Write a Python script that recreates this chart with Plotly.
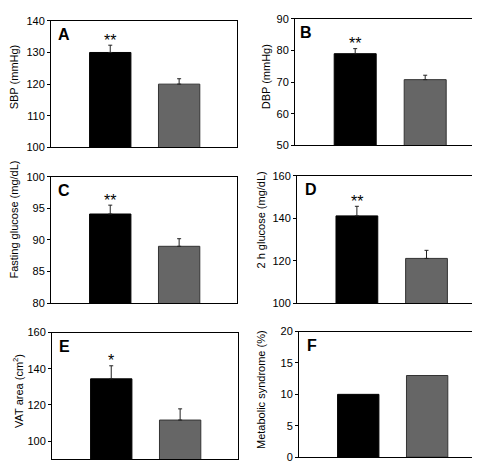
import plotly.graph_objects as go

W, H = 480, 462

# ---- data ----
groups = [0, 1]
bar_colors = ["#000000", "#666666"]

sbp = [130.0, 120.0]
sbp_err = [2.3, 1.7]
dbp = [79.0, 70.8]
dbp_err = [1.6, 1.4]
fasting_glucose = [94.1, 89.0]
fasting_glucose_err = [1.4, 1.2]
glucose_2h = [141.1, 121.1]
glucose_2h_err = [4.5, 3.8]
vat_area = [134.4, 111.6]
vat_area_err = [7.2, 6.2]
metabolic_syndrome = [10.0, 13.0]

panel_letters = ["A", "B", "C", "D", "E", "F"]
y_titles = ["SBP (mmHg)", "DBP (mmHg)", "Fasting glucose (mg/dL)",
            "2 h glucose (mg/dL)", "VAT area (cm<sup>2</sup>)", "Metabolic syndrome (%)"]
significance = ["**", "**", "**", "**", "*", ""]
y_ranges = [[100, 140], [50, 90], [80, 100], [100, 160], [90, 160], [0, 20]]
y_ticks = [[100, 110, 120, 130, 140], [50, 60, 70, 80, 90], [80, 85, 90, 95, 100],
           [100, 120, 140, 160], [100, 120, 140, 160], [0, 5, 10, 15, 20]]

values = [sbp, dbp, fasting_glucose, glucose_2h, vat_area, metabolic_syndrome]
errors = [sbp_err, dbp_err, fasting_glucose_err, glucose_2h_err, vat_area_err, None]

# ---- layout geometry (pixels) ----
boxes = [  # x0, x1, y0(top), y1(bottom)
    (43, 229, 7, 137),
    (287, 476, 5, 135),
    (43, 229, 167, 297),
    (289, 477, 166, 297),
    (44, 230, 327, 457),
    (291, 477, 326, 455),
]
title_pos = [(6, 65), (258, 65), (6, 211), (253, 212), (10, 387), (253, 386)]
letter_dx = [5, 3, 5, 6, 5, 6]

FONT = "Arial, Liberation Sans, Helvetica, sans-serif"

fig = go.Figure()
layout = dict(
    width=W, height=H, margin=dict(l=0, r=0, t=0, b=0),
    paper_bgcolor="white", plot_bgcolor="white", showlegend=False,
    font=dict(family=FONT, size=11, color="black"),
)
annotations = []

for i in range(6):
    n = "" if i == 0 else str(i + 1)
    x0, x1, y0, y1 = boxes[i]
    err = errors[i]
    tr = dict(
        x=groups, y=values[i], width=0.6,
        marker=dict(color=bar_colors, line=dict(color=["#000000", "#333333"], width=1)),
        xaxis="x" + n, yaxis="y" + n, hoverinfo="skip",
    )
    if err is not None:
        tr["error_y"] = dict(type="data", array=err, arrayminus=[0, 0], symmetric=False,
                             color="#222222", thickness=1, width=2)
    fig.add_trace(go.Bar(**tr))

    layout["xaxis" + n] = dict(
        domain=[x0 / W, x1 / W], range=[-0.86, 1.84], anchor="y" + n,
        showticklabels=False, ticks="", showgrid=False, zeroline=False,
        showline=True, linecolor="black", linewidth=1, mirror=True,
    )
    layout["yaxis" + n] = dict(
        domain=[1 - y1 / H, 1 - y0 / H], range=y_ranges[i], anchor="x" + n,
        tickvals=y_ticks[i], ticks="outside", ticklen=3, tickwidth=1, tickcolor="black",
        tickfont=dict(family=FONT, size=11, color="black"),
        showgrid=False, zeroline=False,
        showline=True, linecolor="black", linewidth=1, mirror=True,
    )

    # panel letter
    annotations.append(dict(
        text="<b>%s</b>" % panel_letters[i], xref="x%s domain" % n, yref="y%s domain" % n,
        x=letter_dx[i] / (x1 - x0), y=1, xanchor="left", yanchor="top", yshift=-3,
        showarrow=False, font=dict(family=FONT, size=16, color="black"),
    ))
    # y-axis title
    tx, ty = title_pos[i]
    annotations.append(dict(
        text=y_titles[i], xref="paper", yref="paper", x=tx / W, y=1 - ty / H,
        xanchor="center", yanchor="middle", textangle=-90, showarrow=False,
        font=dict(family=FONT, size=11, color="black"),
    ))
    # significance marks
    if significance[i]:
        top = values[i][0] + (err[0] if err is not None else 0)
        annotations.append(dict(
            text=significance[i], xref="x" + n, yref="y" + n, x=groups[0], y=top,
            xanchor="center", yanchor="middle", yshift=5, showarrow=False,
            font=dict(family=FONT, size=16, color="black"),
        ))

layout["annotations"] = annotations
fig.update_layout(**layout)
fig.write_html("out.html")
